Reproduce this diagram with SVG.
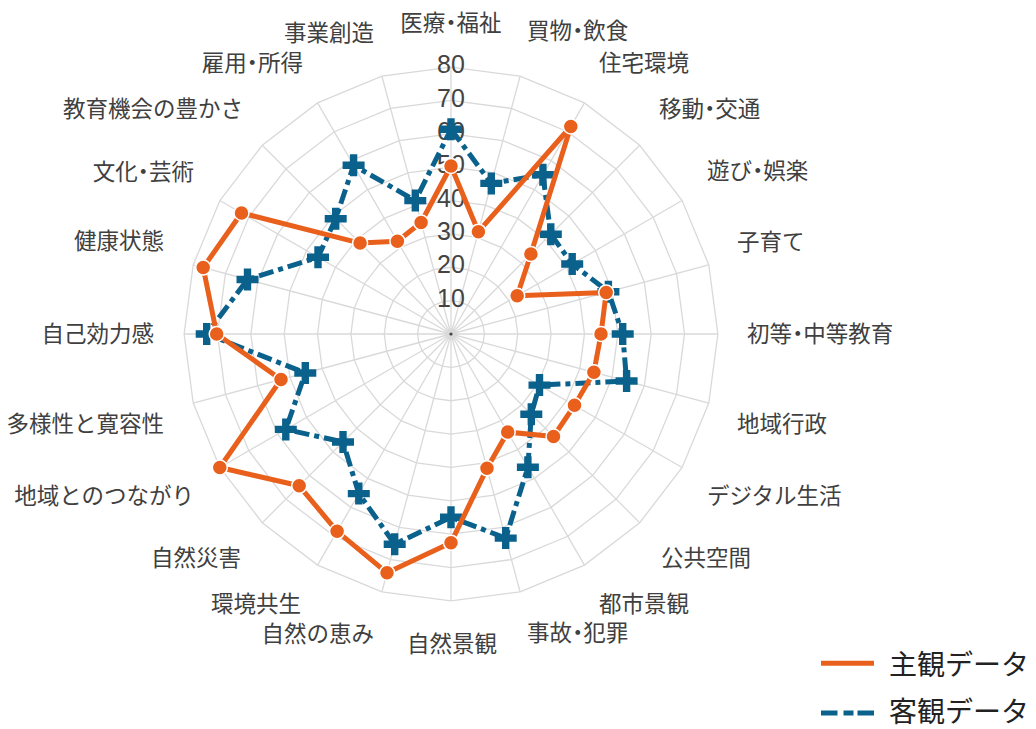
<svg xmlns="http://www.w3.org/2000/svg" xmlns:xlink="http://www.w3.org/1999/xlink" width="1036" height="729" viewBox="0 0 1036 729">
<style>
.ring{fill:none;stroke:#d9d9d9;stroke-width:1.3}
.spk{fill:none;stroke:#d9d9d9;stroke-width:1.3}
.tick{font-family:"Liberation Sans",Arial,sans-serif;font-size:25px;fill:#444;text-anchor:middle}
.cat{font-family:"Noto Sans CJK JP","Noto Sans",sans-serif;font-size:22.5px;fill:#404040;font-feature-settings:"halt"}
.st{text-anchor:start}.en{text-anchor:end}.mi{text-anchor:middle}
.leg{font-family:"Noto Sans CJK JP","Noto Sans",sans-serif;font-size:28px;fill:#222}
.oline{fill:none;stroke:#e8601c;stroke-width:5;stroke-linejoin:round}
.bline{fill:none;stroke:#0a618c;stroke-width:5;stroke-dasharray:15 5 5 5;stroke-linejoin:round}
.odot{fill:#e8601c;stroke:#fff;stroke-width:1.5}
.bx{fill:#0a618c}
</style>
<defs>
<path id="cross" d="M11,3.7H3.7V11H-3.7V3.7H-11V-3.7H-3.7V-11H3.7V-3.7H11Z"/>
</defs>
<rect width="1036" height="729" fill="#fff"/>
<g id="grid" transform="translate(451,334)">
<polygon class="ring" points="0,-33.36 8.63,-32.22 16.68,-28.89 23.59,-23.59 28.89,-16.68 32.22,-8.63 33.36,0 32.22,8.63 28.89,16.68 23.59,23.59 16.68,28.89 8.63,32.22 0,33.36 -8.63,32.22 -16.68,28.89 -23.59,23.59 -28.89,16.68 -32.22,8.63 -33.36,0 -32.22,-8.63 -28.89,-16.68 -23.59,-23.59 -16.68,-28.89 -8.63,-32.22"/>
<polygon class="ring" points="0,-66.72 17.27,-64.45 33.36,-57.78 47.18,-47.18 57.78,-33.36 64.45,-17.27 66.72,0 64.45,17.27 57.78,33.36 47.18,47.18 33.36,57.78 17.27,64.45 0,66.72 -17.27,64.45 -33.36,57.78 -47.18,47.18 -57.78,33.36 -64.45,17.27 -66.72,0 -64.45,-17.27 -57.78,-33.36 -47.18,-47.18 -33.36,-57.78 -17.27,-64.45"/>
<polygon class="ring" points="0,-100.08 25.9,-96.67 50.04,-86.67 70.77,-70.77 86.67,-50.04 96.67,-25.9 100.08,0 96.67,25.9 86.67,50.04 70.77,70.77 50.04,86.67 25.9,96.67 0,100.08 -25.9,96.67 -50.04,86.67 -70.77,70.77 -86.67,50.04 -96.67,25.9 -100.08,0 -96.67,-25.9 -86.67,-50.04 -70.77,-70.77 -50.04,-86.67 -25.9,-96.67"/>
<polygon class="ring" points="0,-133.44 34.54,-128.89 66.72,-115.56 94.36,-94.36 115.56,-66.72 128.89,-34.54 133.44,0 128.89,34.54 115.56,66.72 94.36,94.36 66.72,115.56 34.54,128.89 0,133.44 -34.54,128.89 -66.72,115.56 -94.36,94.36 -115.56,66.72 -128.89,34.54 -133.44,0 -128.89,-34.54 -115.56,-66.72 -94.36,-94.36 -66.72,-115.56 -34.54,-128.89"/>
<polygon class="ring" points="0,-166.8 43.17,-161.12 83.4,-144.45 117.95,-117.95 144.45,-83.4 161.12,-43.17 166.8,0 161.12,43.17 144.45,83.4 117.95,117.95 83.4,144.45 43.17,161.12 0,166.8 -43.17,161.12 -83.4,144.45 -117.95,117.95 -144.45,83.4 -161.12,43.17 -166.8,0 -161.12,-43.17 -144.45,-83.4 -117.95,-117.95 -83.4,-144.45 -43.17,-161.12"/>
<polygon class="ring" points="0,-200.16 51.81,-193.34 100.08,-173.34 141.54,-141.54 173.34,-100.08 193.34,-51.81 200.16,0 193.34,51.81 173.34,100.08 141.54,141.54 100.08,173.34 51.81,193.34 0,200.16 -51.81,193.34 -100.08,173.34 -141.54,141.54 -173.34,100.08 -193.34,51.81 -200.16,0 -193.34,-51.81 -173.34,-100.08 -141.54,-141.54 -100.08,-173.34 -51.81,-193.34"/>
<polygon class="ring" points="0,-233.52 60.44,-225.56 116.76,-202.23 165.12,-165.12 202.23,-116.76 225.56,-60.44 233.52,0 225.56,60.44 202.23,116.76 165.12,165.12 116.76,202.23 60.44,225.56 0,233.52 -60.44,225.56 -116.76,202.23 -165.12,165.12 -202.23,116.76 -225.56,60.44 -233.52,0 -225.56,-60.44 -202.23,-116.76 -165.12,-165.12 -116.76,-202.23 -60.44,-225.56"/>
<polygon class="ring" points="0,-266.88 69.07,-257.79 133.44,-231.12 188.71,-188.71 231.12,-133.44 257.79,-69.07 266.88,0 257.79,69.07 231.12,133.44 188.71,188.71 133.44,231.12 69.07,257.79 0,266.88 -69.07,257.79 -133.44,231.12 -188.71,188.71 -231.12,133.44 -257.79,69.07 -266.88,0 -257.79,-69.07 -231.12,-133.44 -188.71,-188.71 -133.44,-231.12 -69.07,-257.79"/>
<path class="spk" d="M0,0L0,-266.88M0,0L69.07,-257.79M0,0L133.44,-231.12M0,0L188.71,-188.71M0,0L231.12,-133.44M0,0L257.79,-69.07M0,0L266.88,0M0,0L257.79,69.07M0,0L231.12,133.44M0,0L188.71,188.71M0,0L133.44,231.12M0,0L69.07,257.79M0,0L0,266.88M0,0L-69.07,257.79M0,0L-133.44,231.12M0,0L-188.71,188.71M0,0L-231.12,133.44M0,0L-257.79,69.07M0,0L-266.88,0M0,0L-257.79,-69.07M0,0L-231.12,-133.44M0,0L-188.71,-188.71M0,0L-133.44,-231.12M0,0L-69.07,-257.79"/>
<circle r="1.6" fill="#444"/>
</g>
<g id="radial-ticks">
<text class="tick" x="451" y="306.6">10</text>
<text class="tick" x="451" y="273.3">20</text>
<text class="tick" x="451" y="239.9">30</text>
<text class="tick" x="451" y="206.6">40</text>
<text class="tick" x="451" y="173.2">50</text>
<text class="tick" x="451" y="139.8">60</text>
<text class="tick" x="451" y="106.5">70</text>
<text class="tick" x="451" y="73.1">80</text>
</g>
<g id="category-labels">
<text id="l00" class="cat mi" x="451" y="31">医療・福祉</text>
<text id="l01" class="cat st" x="527" y="39">買物・飲食</text>
<text id="l02" class="cat st" x="599" y="70.5">住宅環境</text>
<text id="l03" class="cat st" x="659" y="116.5">移動・交通</text>
<text id="l04" class="cat st" x="707" y="178.5">遊び・娯楽</text>
<text id="l05" class="cat st" x="737" y="250">子育て</text>
<text id="l06" class="cat st" x="747" y="341.5">初等・中等教育</text>
<text id="l07" class="cat st" x="737" y="431.5">地域行政</text>
<text id="l08" class="cat st" x="707" y="503.5">デジタル生活</text>
<text id="l09" class="cat st" x="661" y="565.5">公共空間</text>
<text id="l10" class="cat st" x="599" y="611.5">都市景観</text>
<text id="l11" class="cat st" x="527" y="641">事故・犯罪</text>
<text id="l12" class="cat mi" x="452" y="651.5">自然景観</text>
<text id="l13" class="cat en" x="374" y="641.5">自然の恵み</text>
<text id="l14" class="cat en" x="301" y="611.5">環境共生</text>
<text id="l15" class="cat en" x="241" y="565.5">自然災害</text>
<text id="l16" class="cat en" x="194" y="503.5">地域とのつながり</text>
<text id="l17" class="cat en" x="164" y="431.5">多様性と寛容性</text>
<text id="l18" class="cat en" x="154" y="341.5">自己効力感</text>
<text id="l19" class="cat en" x="164" y="248.5">健康状態</text>
<text id="l20" class="cat en" x="194" y="179.5">文化・芸術</text>
<text id="l21" class="cat en" x="243" y="116.5">教育機会の豊かさ</text>
<text id="l22" class="cat en" x="303" y="70.5">雇用・所得</text>
<text id="l23" class="cat en" x="374" y="40.5">事業創造</text>
</g>
<g id="connectors">
<polygon id="objective-line" class="bline" points="451,129.3 491.3,183.4 542.9,174.8 550.8,234.2 572.2,264 608.4,291.8 622.7,334 626.6,381 539.5,385.1 531.3,414.3 527.9,467.2 505.7,538.1 451,517.3 394.7,544.2 358.8,493.6 343,442 285.8,429.4 305.3,373 206.7,334 247.5,279.5 318,257.2 335.7,218.7 353.6,165.3 415.3,200.6"/>
</g>
<g id="objective-markers" class="bx">
<use href="#cross" x="451" y="129.3"/>
<use href="#cross" x="491.3" y="183.4"/>
<use href="#cross" x="542.9" y="174.8"/>
<use href="#cross" x="550.8" y="234.2"/>
<use href="#cross" x="572.2" y="264"/>
<use href="#cross" x="608.4" y="291.8"/>
<use href="#cross" x="622.7" y="334"/>
<use href="#cross" x="626.6" y="381"/>
<use href="#cross" x="539.5" y="385.1"/>
<use href="#cross" x="531.3" y="414.3"/>
<use href="#cross" x="527.9" y="467.2"/>
<use href="#cross" x="505.7" y="538.1"/>
<use href="#cross" x="451" y="517.3"/>
<use href="#cross" x="394.7" y="544.2"/>
<use href="#cross" x="358.8" y="493.6"/>
<use href="#cross" x="343" y="442"/>
<use href="#cross" x="285.8" y="429.4"/>
<use href="#cross" x="305.3" y="373"/>
<use href="#cross" x="206.7" y="334"/>
<use href="#cross" x="247.5" y="279.5"/>
<use href="#cross" x="318" y="257.2"/>
<use href="#cross" x="335.7" y="218.7"/>
<use href="#cross" x="353.6" y="165.3"/>
<use href="#cross" x="415.3" y="200.6"/>
</g>
<g id="subjective-connector">
<polygon id="subjective-line" class="oline" points="451,166 478.4,231.7 570.8,126.5 530.9,254.1 517.2,295.8 606.2,292.4 601,334 593.9,372.3 574.5,405.3 553.5,436.5 507.7,432.1 487,468.3 451,542.7 387,572.8 337.1,531.3 299.2,485.8 219.8,467.5 281,379.5 216.7,334 203.2,267.6 241.5,213 360.1,243.1 397.4,241.2 421.1,222.5"/>
</g>
<g id="subjective-markers">
<circle class="odot" cx="451" cy="166" r="7.5"/>
<circle class="odot" cx="478.4" cy="231.7" r="7.5"/>
<circle class="odot" cx="570.8" cy="126.5" r="7.5"/>
<circle class="odot" cx="530.9" cy="254.1" r="7.5"/>
<circle class="odot" cx="517.2" cy="295.8" r="7.5"/>
<circle class="odot" cx="606.2" cy="292.4" r="7.5"/>
<circle class="odot" cx="601" cy="334" r="7.5"/>
<circle class="odot" cx="593.9" cy="372.3" r="7.5"/>
<circle class="odot" cx="574.5" cy="405.3" r="7.5"/>
<circle class="odot" cx="553.5" cy="436.5" r="7.5"/>
<circle class="odot" cx="507.7" cy="432.1" r="7.5"/>
<circle class="odot" cx="487" cy="468.3" r="7.5"/>
<circle class="odot" cx="451" cy="542.7" r="7.5"/>
<circle class="odot" cx="387" cy="572.8" r="7.5"/>
<circle class="odot" cx="337.1" cy="531.3" r="7.5"/>
<circle class="odot" cx="299.2" cy="485.8" r="7.5"/>
<circle class="odot" cx="219.8" cy="467.5" r="7.5"/>
<circle class="odot" cx="281" cy="379.5" r="7.5"/>
<circle class="odot" cx="216.7" cy="334" r="7.5"/>
<circle class="odot" cx="203.2" cy="267.6" r="7.5"/>
<circle class="odot" cx="241.5" cy="213" r="7.5"/>
<circle class="odot" cx="360.1" cy="243.1" r="7.5"/>
<circle class="odot" cx="397.4" cy="241.2" r="7.5"/>
<circle class="odot" cx="421.1" cy="222.5" r="7.5"/>
</g>
<g id="legend">
<line x1="821" y1="663.3" x2="874" y2="663.3" stroke="#e8601c" stroke-width="5"/>
<text class="leg" x="889" y="674.5">主観データ</text>
<line x1="821" y1="713" x2="874" y2="713" stroke="#0a618c" stroke-width="5" stroke-dasharray="16.5 6 10 4 16.5"/>
<text class="leg" x="889" y="721.5">客観データ</text>
</g>
</svg>
